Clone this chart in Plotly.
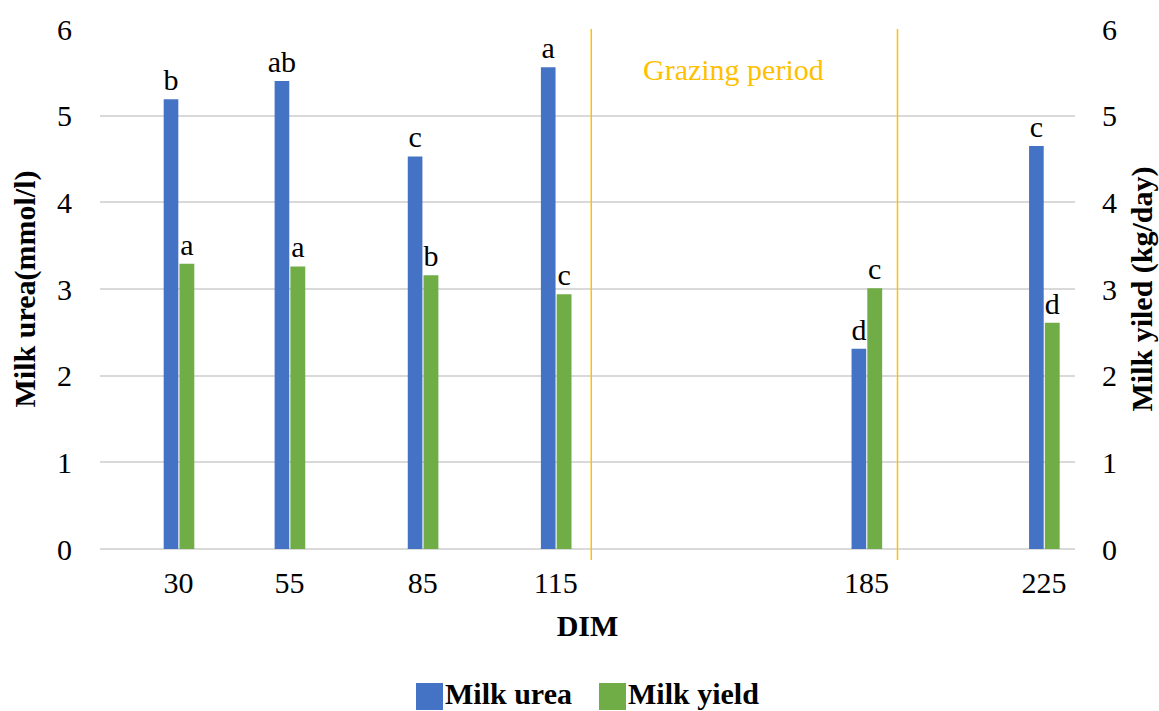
import plotly.graph_objects as go

# Days in milk (DIM) at each sampling point
dim = [30, 55, 85, 115, 185, 225]
dim_labels = ["30", "55", "85", "115", "185", "225"]

# Milk urea (mmol/l) and milk yield (kg/day) with significance letters
milk_urea = [5.19, 5.40, 4.53, 5.56, 2.31, 4.65]
milk_urea_letters = ["b", "ab", "c", "a", "d", "c"]
milk_yield = [3.29, 3.26, 3.16, 2.94, 3.01, 2.61]
milk_yield_letters = ["a", "a", "b", "c", "c", "d"]

# Start and end of the grazing period (DIM)
grazing_bounds = [123, 192]

BLUE = "#4472C4"
GREEN = "#70AD47"
GOLD = "#FFC000"
GRID = "#D9D9D9"
FONT = "Liberation Serif"
FS = 30

W, H = 1159, 711
ML, MR, MT, MB = 100, 84, 29, 162
PW, PH = W - ML - MR, H - MT - MB


def px_x(px):
    """Pixel column -> paper x."""
    return (px - ML) / PW


def px_y(py):
    """Pixel row -> paper y."""
    return (H - MB - py) / PH


fig = go.Figure()

fig.add_trace(go.Bar(
    x=dim, y=milk_urea, name="Milk urea",
    marker=dict(color=BLUE, line=dict(width=0)),
    width=3.3, offset=-3.35,
    text=milk_urea_letters, textposition="outside",
    textfont=dict(family=FONT, size=FS, color="black"),
    constraintext="none", cliponaxis=False, showlegend=False,
))
fig.add_trace(go.Bar(
    x=dim, y=milk_yield, name="Milk yield", yaxis="y2",
    marker=dict(color=GREEN, line=dict(width=0)),
    width=3.35, offset=0.2,
    text=milk_yield_letters, textposition="outside",
    textfont=dict(family=FONT, size=FS, color="black"),
    constraintext="none", cliponaxis=False, showlegend=False,
))

# Grazing period boundaries
for xb in grazing_bounds:
    fig.add_shape(type="line", xref="x", yref="paper",
                  x0=xb, x1=xb, y0=px_y(560), y1=1,
                  line=dict(color=GOLD, width=1.5), layer="above")

fig.add_annotation(x=155, y=5.53, xref="x", yref="y", text="Grazing period",
                   showarrow=False,
                   font=dict(family=FONT, size=FS, color=GOLD))

# Legend: square swatch followed by bold series name
legend_items = [("Milk urea", BLUE, 416), ("Milk yield", GREEN, 599)]
for name, color, left in legend_items:
    fig.add_shape(type="rect", xref="paper", yref="paper",
                  x0=px_x(left), x1=px_x(left + 27),
                  y0=px_y(710), y1=px_y(683),
                  fillcolor=color, line=dict(width=0))
    fig.add_annotation(xref="paper", yref="paper",
                       x=px_x(left + 27), y=px_y(693),
                       xanchor="left", yanchor="middle",
                       text=f"<b>{name}</b>", showarrow=False,
                       font=dict(family=FONT, size=FS, color="black"))

fig.update_layout(
    width=W, height=H,
    margin=dict(l=ML, r=MR, t=MT, b=MB),
    paper_bgcolor="white", plot_bgcolor="white",
    barmode="overlay", showlegend=False,
    font=dict(family=FONT, size=FS, color="black"),
    xaxis=dict(
        range=[12.3, 232], tickmode="array", tickvals=dim, ticktext=dim_labels,
        showgrid=False, zeroline=False, showline=False, ticks="",
        ticklabelstandoff=13, automargin=False,
        title=dict(text="<b>DIM</b>", standoff=16,
                   font=dict(family=FONT, size=FS)),
        tickfont=dict(family=FONT, size=FS),
    ),
    yaxis=dict(
        range=[0, 6], dtick=1, showgrid=True, gridcolor=GRID, gridwidth=1.5,
        zeroline=True, zerolinecolor=GRID, zerolinewidth=1.5,
        showline=False, ticks="", ticklabelstandoff=27, automargin=False,
        title=dict(text="<b>Milk urea(mmol/l)</b>", standoff=12,
                   font=dict(family=FONT, size=FS)),
        tickfont=dict(family=FONT, size=FS),
    ),
    yaxis2=dict(
        range=[0, 6], dtick=1, overlaying="y", side="right",
        showgrid=False, zeroline=False, showline=False, ticks="",
        ticklabelstandoff=26, automargin=False,
        title=dict(text="<b>Milk yiled (kg/day)</b>", standoff=16,
                   font=dict(family=FONT, size=FS)),
        tickfont=dict(family=FONT, size=FS),
    ),
)

fig.write_html("out.html")
